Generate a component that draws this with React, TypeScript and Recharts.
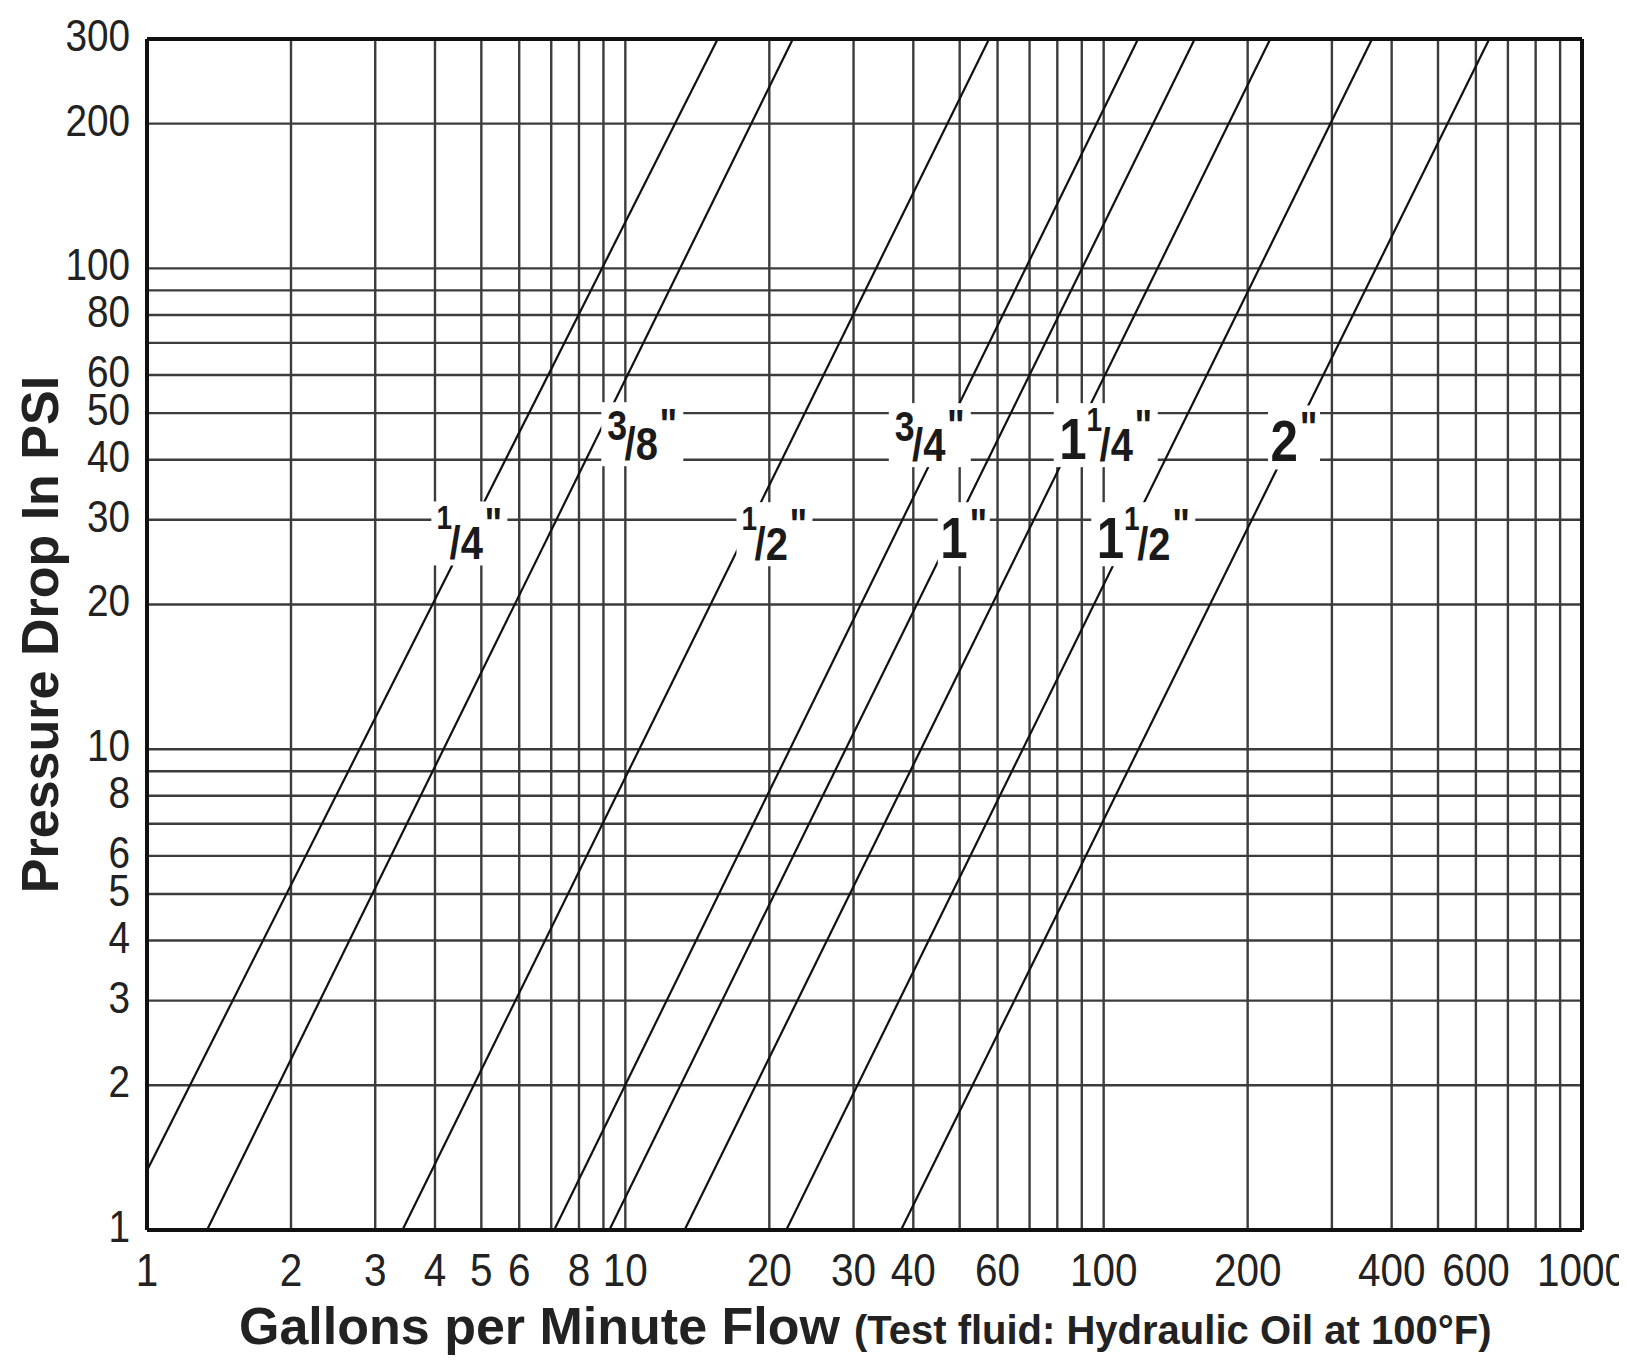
import { CartesianGrid, Line, LineChart, ReferenceDot, ReferenceLine, XAxis, YAxis } from "recharts";

// flow (gpm) vs pressure drop (psi), each size is a straight line on log-log paper
const quarterInch = [{ gpm: 1, psi: 1.33 }, { gpm: 15.6, psi: 300 }];
const threeEighthInch = [{ gpm: 1.335, psi: 1 }, { gpm: 22.4, psi: 300 }];
const halfInch = [{ gpm: 3.42, psi: 1 }, { gpm: 57.6, psi: 300 }];
const threeQuarterInch = [{ gpm: 7.1, psi: 1 }, { gpm: 118, psi: 300 }];
const oneInch = [{ gpm: 9.26, psi: 1 }, { gpm: 155, psi: 300 }];
const oneQuarterInch = [{ gpm: 13.3, psi: 1 }, { gpm: 223, psi: 300 }];
const oneHalfInch = [{ gpm: 21.7, psi: 1 }, { gpm: 364, psi: 300 }];
const twoInch = [{ gpm: 37.7, psi: 1 }, { gpm: 640, psi: 300 }];

const seriesList = [quarterInch, threeEighthInch, halfInch, threeQuarterInch, oneInch, oneQuarterInch, oneHalfInch, twoInch];

// size labels: whole part, fraction, and where the label sits (data units)
const sizeLabels = [
    { whole: "", num: "1", den: "4", gpm: 4.72, psi: 28.1 },
    { whole: "", num: "3", den: "8", gpm: 10.85, psi: 45.2 },
    { whole: "", num: "1", den: "2", gpm: 20.5, psi: 28.0 },
    { whole: "", num: "3", den: "4", gpm: 43.3, psi: 45.0 },
    { whole: "1", num: "", den: "", gpm: 51, psi: 28.0 },
    { whole: "1", num: "1", den: "4", gpm: 101, psi: 45.0 },
    { whole: "1", num: "1", den: "2", gpm: 121, psi: 28.0 },
    { whole: "2", num: "", den: "", gpm: 250, psi: 44.5 },
];

const xGridTicks = [1, 2, 3, 4, 5, 6, 7, 8, 9, 10, 20, 30, 40, 50, 60, 70, 80, 90, 100, 200, 300, 400, 500, 600, 700, 800, 900, 1000];
const xTickLabels = [1, 2, 3, 4, 5, 6, 8, 10, 20, 30, 40, 60, 100, 200, 400, 600, 1000];
const yGridTicks = [1, 2, 3, 4, 5, 6, 7, 8, 9, 10, 20, 30, 40, 50, 60, 70, 80, 90, 100, 200, 300];
const yTickLabels = [1, 2, 3, 4, 5, 6, 8, 10, 20, 30, 40, 50, 60, 80, 100, 200, 300];

const FONT = "'Liberation Sans', Arial, Helvetica, sans-serif";

const XTick = (props: any) => {
    const { x, y, payload } = props;
    if (!xTickLabels.includes(payload.value)) return <g />;
    return (
        <text transform={`translate(${x} ${y + 54}) scale(0.88 1)`} textAnchor="middle" fontFamily={FONT} fontSize={46} fill="#222">
            {payload.value}
        </text>
    );
};

const YTick = (props: any) => {
    const { x, y, payload } = props;
    if (!yTickLabels.includes(payload.value)) return <g />;
    return (
        <text transform={`translate(${x - 15} ${y + 12}) scale(0.88 1)`} textAnchor="end" fontFamily={FONT} fontSize={44} fill="#222">
            {payload.value}
        </text>
    );
};

const XTitle = (props: any) => {
    const vb = props.viewBox || { x: 139, y: 1222 };
    return (
        <text x={vb.x + 92} y={vb.y + 114} fontFamily={FONT} fontWeight="bold" fill="#222">
            <tspan fontSize={52}>Gallons per Minute Flow</tspan>
            <tspan fontSize={40} dx={14}>(Test fluid: Hydraulic Oil at 100°F)</tspan>
        </text>
    );
};

const YTitle = (props: any) => {
    const vb = props.viewBox || { x: 0, y: 31, height: 1191 };
    const cx = vb.x + 50;
    const cy = vb.y + vb.height / 2;
    return (
        <text transform={`translate(${cx} ${cy}) rotate(-90)`} textAnchor="middle" fontFamily={FONT} fontWeight="bold" fontSize={52} fill="#222">
            Pressure Drop In PSI
        </text>
    );
};

const SizeLabel = (props: any) => {
    const { cx, cy, whole, num, den } = props;
    const bigNum = num === "3";
    const w = (whole ? 28 : 0) + (num ? (bigNum ? 22 : 16) : 0) + (den ? 36 : 0) + 16 + 8;
    return (
        <g>
            <rect x={cx - w / 2} y={cy - 32} width={w} height={64} fill="#fff" />
            <text transform={`translate(${cx} ${cy}) scale(0.85 1)`} x={0} y={24} textAnchor="middle" fontFamily={FONT} fontWeight="bold" fill="#1a1a1a">
                {whole ? <tspan fontSize={58}>{whole}</tspan> : null}
                {num ? <tspan fontSize={bigNum ? 42 : 33} dy={bigNum ? -18 : -28}>{num}</tspan> : null}
                {den ? <tspan fontSize={47} dx={-3} dy={bigNum ? 20 : 30}>{"/" + den}</tspan> : null}
                <tspan fontSize={44} dx={2} dy={den ? -20 : -18}>"</tspan>
            </text>
        </g>
    );
};

export default function App() {
    return (
        <LineChart width={1619} height={1354} margin={{ top: 31, right: 45, bottom: 0, left: 0 }} style={{ background: "#fff" }}>
            <CartesianGrid stroke="#3c3c3c" strokeWidth={2.4} />
            <XAxis
                type="number"
                dataKey="gpm"
                scale="log"
                domain={[1, 1000]}
                ticks={xGridTicks}
                interval={0}
                allowDataOverflow
                height={132}
                axisLine={false}
                tickLine={false}
                tickSize={0}
                tick={<XTick />}
                label={<XTitle />}
            />
            <YAxis
                type="number"
                dataKey="psi"
                scale="log"
                domain={[1, 300]}
                ticks={yGridTicks}
                interval={0}
                allowDataOverflow
                width={139}
                axisLine={false}
                tickLine={false}
                tickSize={0}
                tick={<YTick />}
                label={<YTitle />}
            />
            {seriesList.map((s, i) => (
                <Line key={i} data={s} dataKey="psi" type="linear" dot={false} stroke="#111" strokeWidth={2.2} isAnimationActive={false} />
            ))}
            <ReferenceLine x={1} stroke="#111" strokeWidth={4} />
            <ReferenceLine x={1000} stroke="#111" strokeWidth={4} />
            <ReferenceLine y={1} stroke="#111" strokeWidth={4} />
            <ReferenceLine y={300} stroke="#111" strokeWidth={4} />
            {sizeLabels.map((l, i) => (
                <ReferenceDot key={"l" + i} x={l.gpm} y={l.psi} r={0} shape={(p: any) => <SizeLabel cx={p.cx} cy={p.cy} whole={l.whole} num={l.num} den={l.den} />} />
            ))}
        </LineChart>
    );
}
